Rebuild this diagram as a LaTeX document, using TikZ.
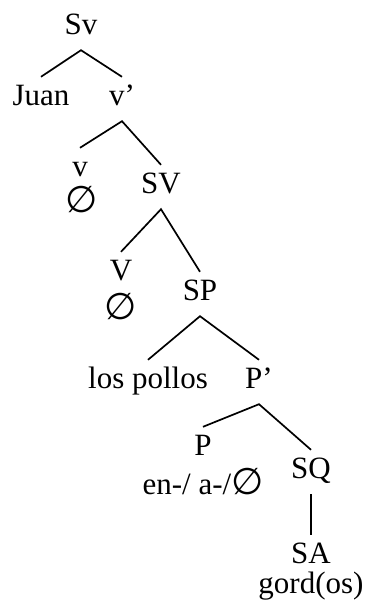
\documentclass[tikz,border=0pt]{standalone}
\usepackage{fontspec}
\setmainfont{Liberation Serif}
\newfontfamily\emptysetfont{DejaVu Sans}
\newcommand{\nul}{{\emptysetfont\fontsize{37}{40}\selectfont ∅}}
\usetikzlibrary{positioning}
\tikzset{
	cat/.style   ={anchor=base, inner xsep=0pt, inner ysep=8pt, text height=20pt, text depth=8pt, font=\fontsize{31}{35}\selectfont},
	word/.style  ={anchor=base, inner sep=0pt, font=\fontsize{31}{35}\selectfont},
	branch/.style={line width=1.7pt},
}

\begin{document}
\begin{tikzpicture}[x=1pt, y=-1pt]
	\useasboundingbox (0,0) rectangle (369,608);
	% categories
	\node[cat] (Sv) at (81,34) {Sv};
	\node[cat] (juan) at (41,105) {Juan};
	\node[cat] (vbar) at (122,105) {v’};
	\node[cat] (v) at (80,176) {v};
	\node[word] (vnull) at (82,212) {\nul};
	\node[cat] (SV) at (161,193) {SV};
	\node[cat] (V) at (121,280) {V};
	\node[word] (Vnull) at (121,319) {\nul};
	\node[cat] (SP) at (200,300) {SP};
	\node[cat] (pollos) at (148,388) {los pollos};
	\node[cat] (Pbar) at (259,388) {P’};
	\node[cat] (P) at (203,455) {P};
	\node[word] (Pforms) at (203,494) {en-/ a-/\nul};
	\node[cat] (SQ) at (311,478) {SQ};
	\node[cat] (SA) at (311,563) {SA};
	\node[word] (gordos) at (311,593) {gord(os)};
	% branches
	\draw[branch] (juan.north) -- (Sv.south) -- (vbar.north);
	\draw[branch] (v.north) -- (vbar.south) -- (SV.north);
	\draw[branch] (V.north) -- (SV.south) -- (SP.north);
	\draw[branch] (pollos.north) -- (SP.south) -- (Pbar.north);
	\draw[branch] (P.north) -- (Pbar.south) -- (SQ.north);
	\draw[branch] (SQ.south) -- (SA.north);
\end{tikzpicture}
\end{document}
